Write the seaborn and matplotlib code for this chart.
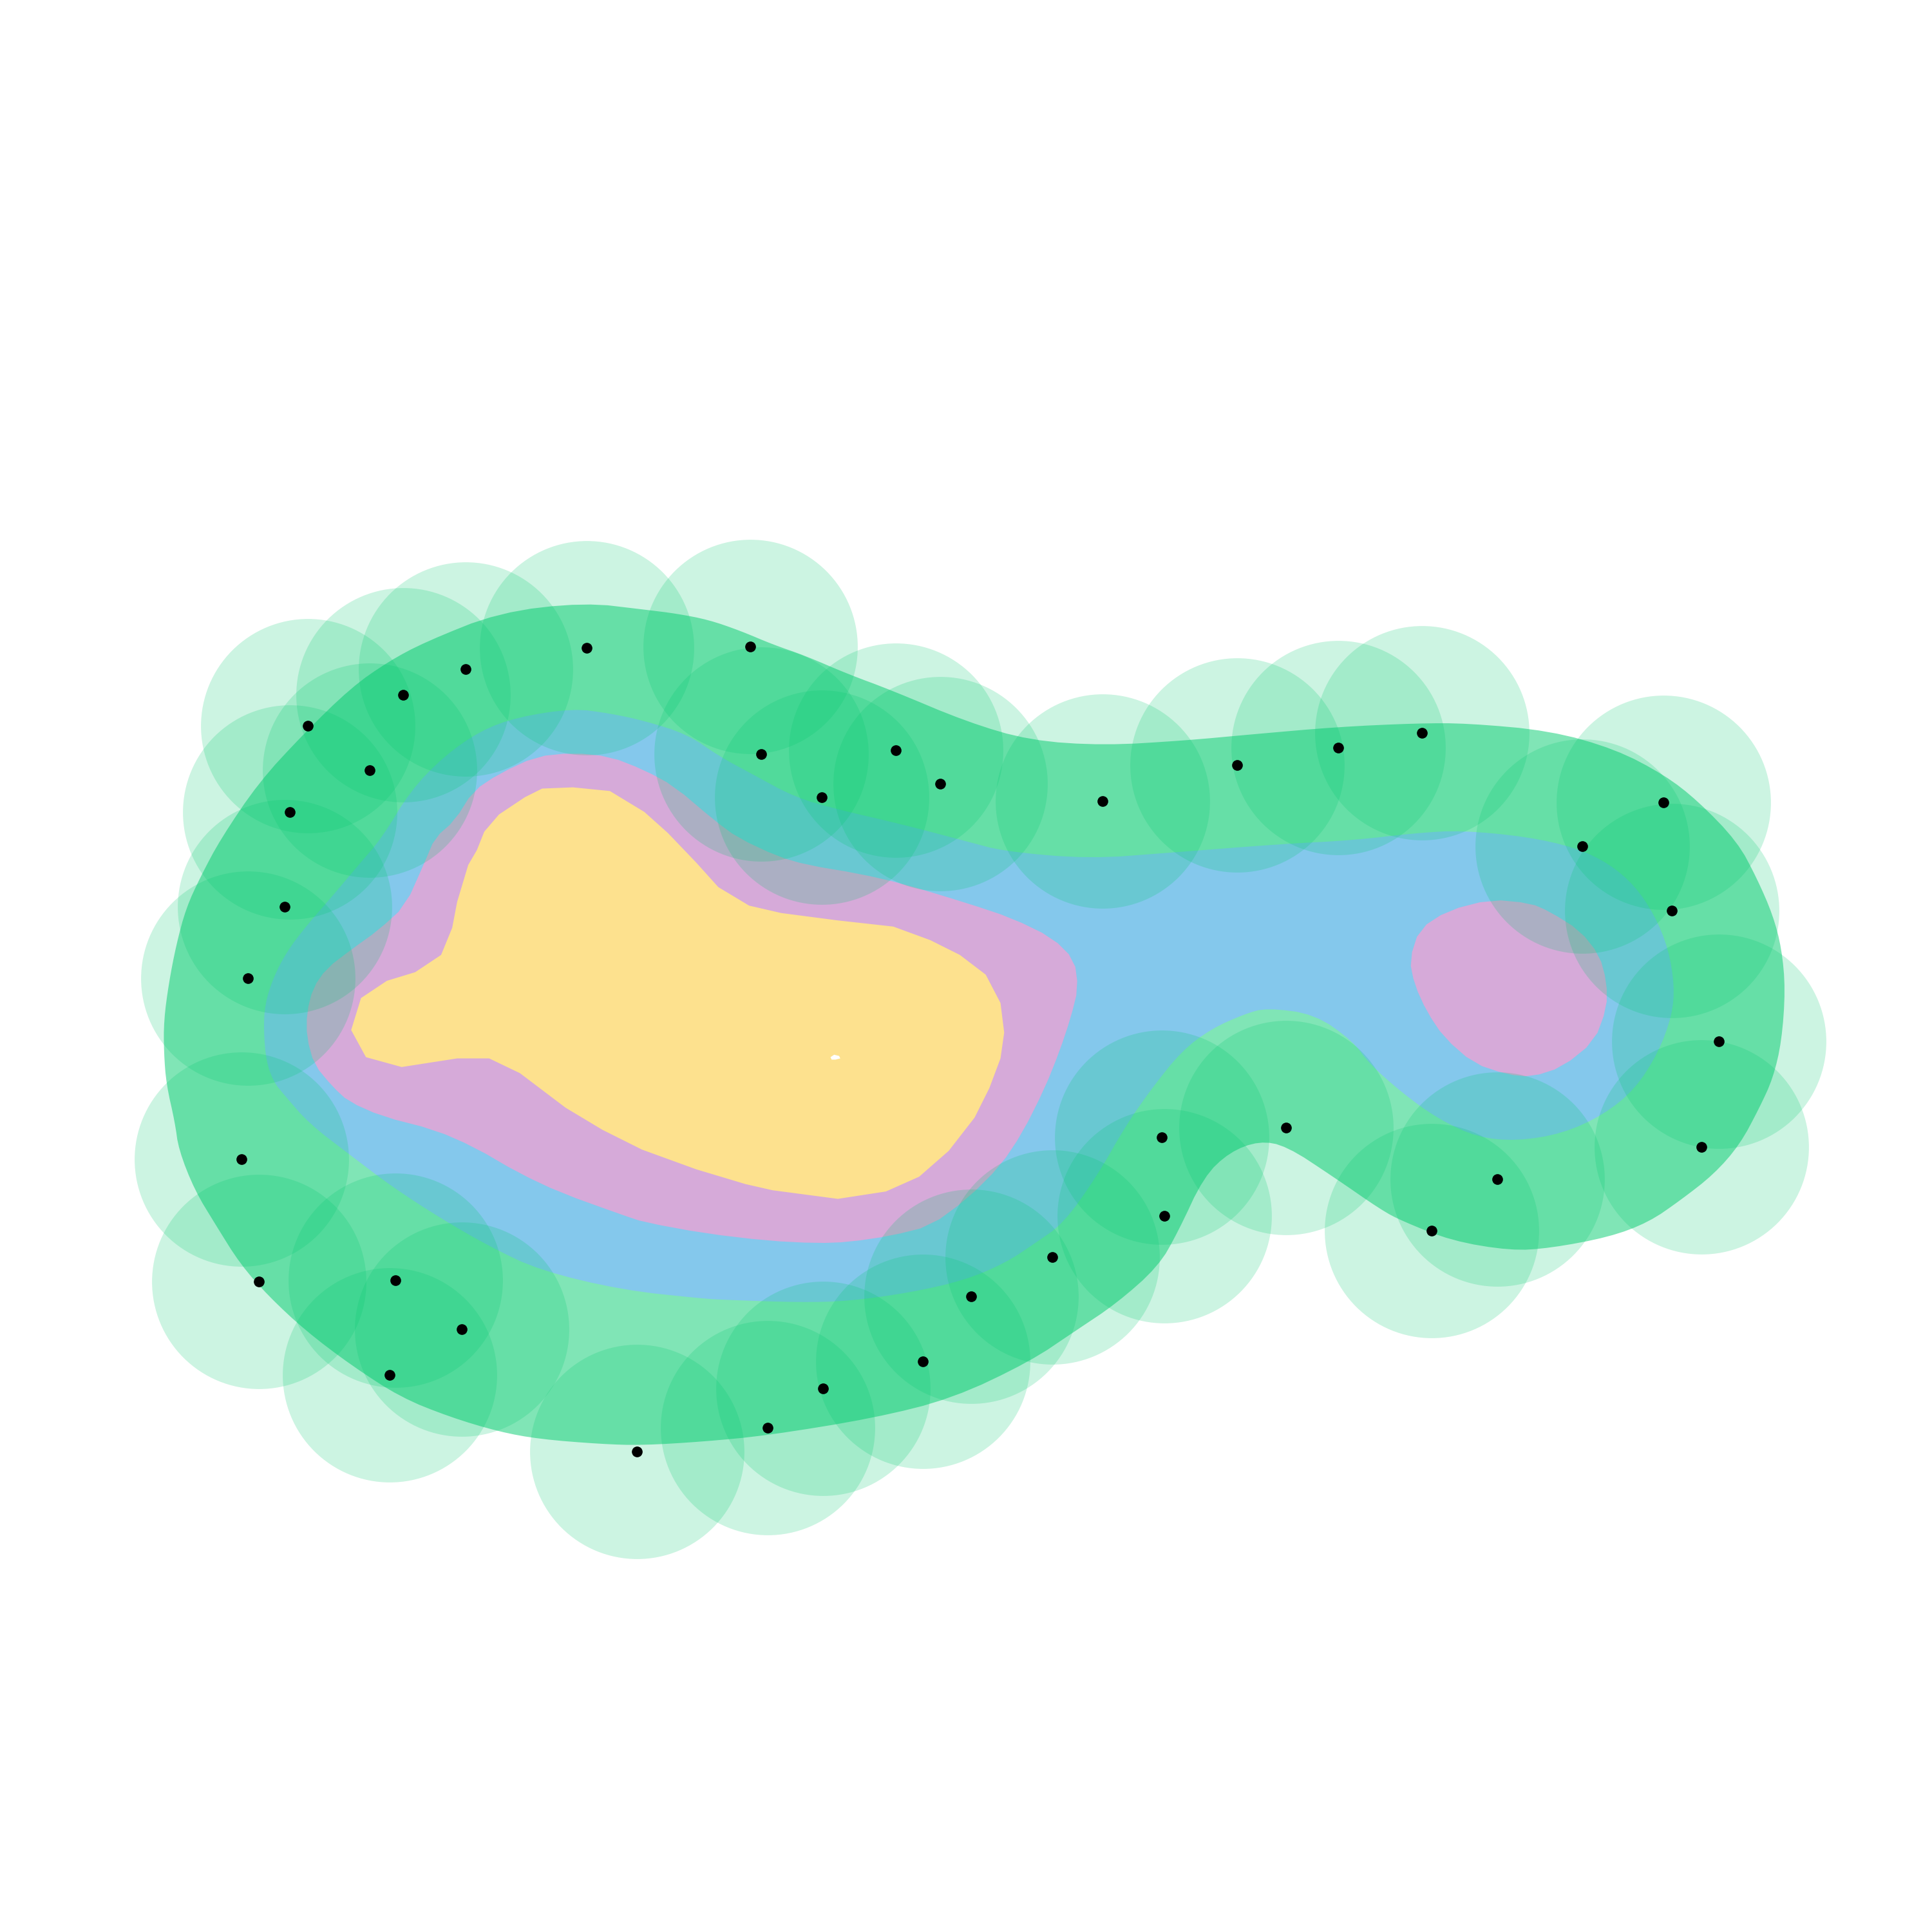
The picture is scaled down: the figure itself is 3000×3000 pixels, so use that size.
## nested level regions with point buffers
import numpy as np
import matplotlib
matplotlib.use("Agg")
import matplotlib.pyplot as plt
import seaborn as sns

## sample points (x, y in plot units, y grows downward)
pt_x = [476, 609, 378, 327, 250, 300, 235, 618, 727, 763, 667, 895, 1004, 1086,
        1154, 1350, 1284, 1357, 1395, 1381, 1215, 1162, 1044, 943, 945, 854,
        788, 749, 668, 623, 517, 375, 321, 316, 210, 196, 201, 231]
pt_y = [526, 525, 543, 564, 589, 625, 659, 612, 609, 636, 647, 650, 621, 607,
        595, 651, 687, 739, 845, 931, 957, 999, 915, 923, 987, 1020,
        1052, 1105, 1127, 1159, 1178, 1079, 1039, 1116, 1040, 941, 794, 736]

## level regions (outline of each band, outermost first)
level_1 = [(133, 828), (137, 798), (143, 767), (151, 737), (163, 711), (179, 681),
           (210, 635), (246, 596), (285, 558), (315, 537), (345, 521), (405, 497),
           (474, 489), (525, 495), (549, 498), (575, 503), (601, 512), (627, 523),
           (653, 532), (688, 547), (723, 560), (785, 586), (836, 601), (896, 605),
           (962, 601), (1016, 596), (1085, 590), (1150, 587), (1191, 587),
           (1258, 593), (1311, 608), (1351, 629), (1378, 650), (1410, 683),
           (1426, 713), (1439, 743), (1446, 770), (1449, 803), (1446, 845),
           (1439, 875), (1428, 899), (1412, 929), (1391, 953), (1364, 974),
           (1338, 992), (1306, 1004), (1258, 1013), (1226, 1015), (1178, 1007),
           (1138, 991), (1121, 982), (1082, 955), (1044, 930), (1022, 926),
           (998, 935), (977, 955), (956, 1000), (940, 1028), (906, 1058),
           (873, 1080), (836, 1105), (773, 1135), (709, 1151), (623, 1165),
           (571, 1170), (521, 1173), (488, 1172), (438, 1168), (405, 1162),
           (365, 1150), (325, 1134), (285, 1108), (248, 1080), (218, 1052),
           (195, 1026), (175, 994), (158, 966), (145, 933), (142, 911),
           (135, 880), (133, 854)]
level_2 = [(214, 836), (215, 815), (222, 793), (233, 772), (249, 751), (270, 727),
           (291, 702), (310, 680), (333, 642), (360, 614), (390, 593), (420, 582),
           (465, 575), (495, 579), (523, 585), (558, 596), (584, 614), (610, 628),
           (645, 647), (680, 657), (732, 669), (785, 683), (815, 691), (884, 697),
           (950, 692), (1040, 685), (1098, 682), (1150, 676), (1186, 674),
           (1239, 679), (1279, 688), (1306, 701), (1327, 719), (1343, 743),
           (1354, 770), (1359, 800), (1357, 824), (1346, 854), (1327, 884),
           (1301, 905), (1268, 920), (1231, 926), (1199, 923), (1167, 908),
           (1138, 887), (1111, 863), (1098, 845), (1067, 823), (1028, 818),
           (1010, 823), (983, 835), (959, 853), (935, 883), (914, 913),
           (890, 955), (863, 993), (840, 1009), (816, 1025), (783, 1039),
           (739, 1049), (689, 1056), (649, 1057), (590, 1055), (571, 1054),
           (505, 1047), (438, 1031), (398, 1012), (358, 989), (318, 963),
           (285, 938), (251, 912), (231, 889), (222, 878), (216, 861)]
level_3a = [(249, 822), (254, 802), (265, 786), (286, 770), (307, 755), (329, 735),
            (345, 699), (353, 680), (369, 666), (384, 642), (405, 628), (435, 614),
            (465, 611), (495, 614), (523, 625), (547, 638), (580, 666), (599, 680),
            (631, 695), (655, 702), (697, 709), (732, 717), (785, 733), (821, 745),
            (854, 761), (872, 779), (875, 802), (869, 826), (860, 853), (848, 883),
            (830, 919), (812, 946), (785, 973), (755, 995), (723, 1003),
            (689, 1008), (663, 1009), (623, 1007), (572, 1001), (523, 992),
            (505, 986), (455, 968), (421, 952), (385, 931), (353, 917),
            (310, 906), (283, 894), (270, 882), (255, 864), (249, 842)]
level_3b = [(1144, 779), (1152, 754), (1175, 739), (1210, 730), (1242, 733),
            (1258, 740), (1282, 755), (1298, 775), (1304, 797), (1304, 818),
            (1294, 845), (1268, 866), (1243, 874), (1223, 872), (1196, 863),
            (1172, 842), (1158, 821), (1148, 799)]
level_4 = [(285, 836), (293, 810), (314, 796), (337, 789), (358, 775), (367, 753),
           (371, 732), (380, 702), (387, 690), (393, 675), (405, 661), (426, 647),
           (440, 640), (465, 639), (495, 642), (523, 659), (542, 676), (565, 700),
           (583, 720), (608, 735), (634, 741), (680, 747), (725, 752), (755, 763),
           (779, 775), (800, 791), (812, 814), (815, 838), (812, 859), (803, 883),
           (791, 907), (770, 934), (746, 955), (719, 967), (680, 973), (627, 966),
           (605, 961), (565, 949), (521, 933), (489, 917), (459, 899), (422, 871),
           (397, 859), (371, 859), (326, 866), (297, 858)]
level_5 = [(674, 858), (677, 856), (681, 857), (682, 859), (678, 860), (675, 860)]

levels = [level_1, level_2, level_3a, level_3b, level_4, level_5]
level_colors = ["#80e5b6", "#84c8ec", "#d6aad9", "#d6aad9", "#fde18e", "#ffffff"]
smooth_passes = [2, 2, 1, 1, 0, 0]


def chaikin(points, passes):
    # corner cutting on a closed outline, only to soften the drawn edge
    pts = np.asarray(points, dtype=float)
    for _ in range(passes):
        nxt = np.roll(pts, -1, axis=0)
        q = 0.75 * pts + 0.25 * nxt
        r = 0.25 * pts + 0.75 * nxt
        pts = np.empty((2 * len(q), 2))
        pts[0::2] = q
        pts[1::2] = r
    return pts


sns.set_style("white")
fig = plt.figure(figsize=(10, 10), dpi=300)
ax = fig.add_axes([0, 0, 1, 1])

for region, col, k in zip(levels, level_colors, smooth_passes):
    outline = chaikin(region, k)
    ax.fill(outline[:, 0], outline[:, 1], color=col, linewidth=0, zorder=1)

## buffer discs round every point, then the points
sns.scatterplot(x=pt_x, y=pt_y, s=6380, color="#00c86e", alpha=0.2,
                linewidth=0, ax=ax, zorder=2, legend=False)
sns.scatterplot(x=pt_x, y=pt_y, s=16, color="black", linewidth=0,
                ax=ax, zorder=3, legend=False)

ax.set_xlim(0, 1568)
ax.set_ylim(1568, 0)
ax.set_aspect("equal")
ax.axis("off")
fig.savefig("out.png", dpi=300, facecolor="white")
